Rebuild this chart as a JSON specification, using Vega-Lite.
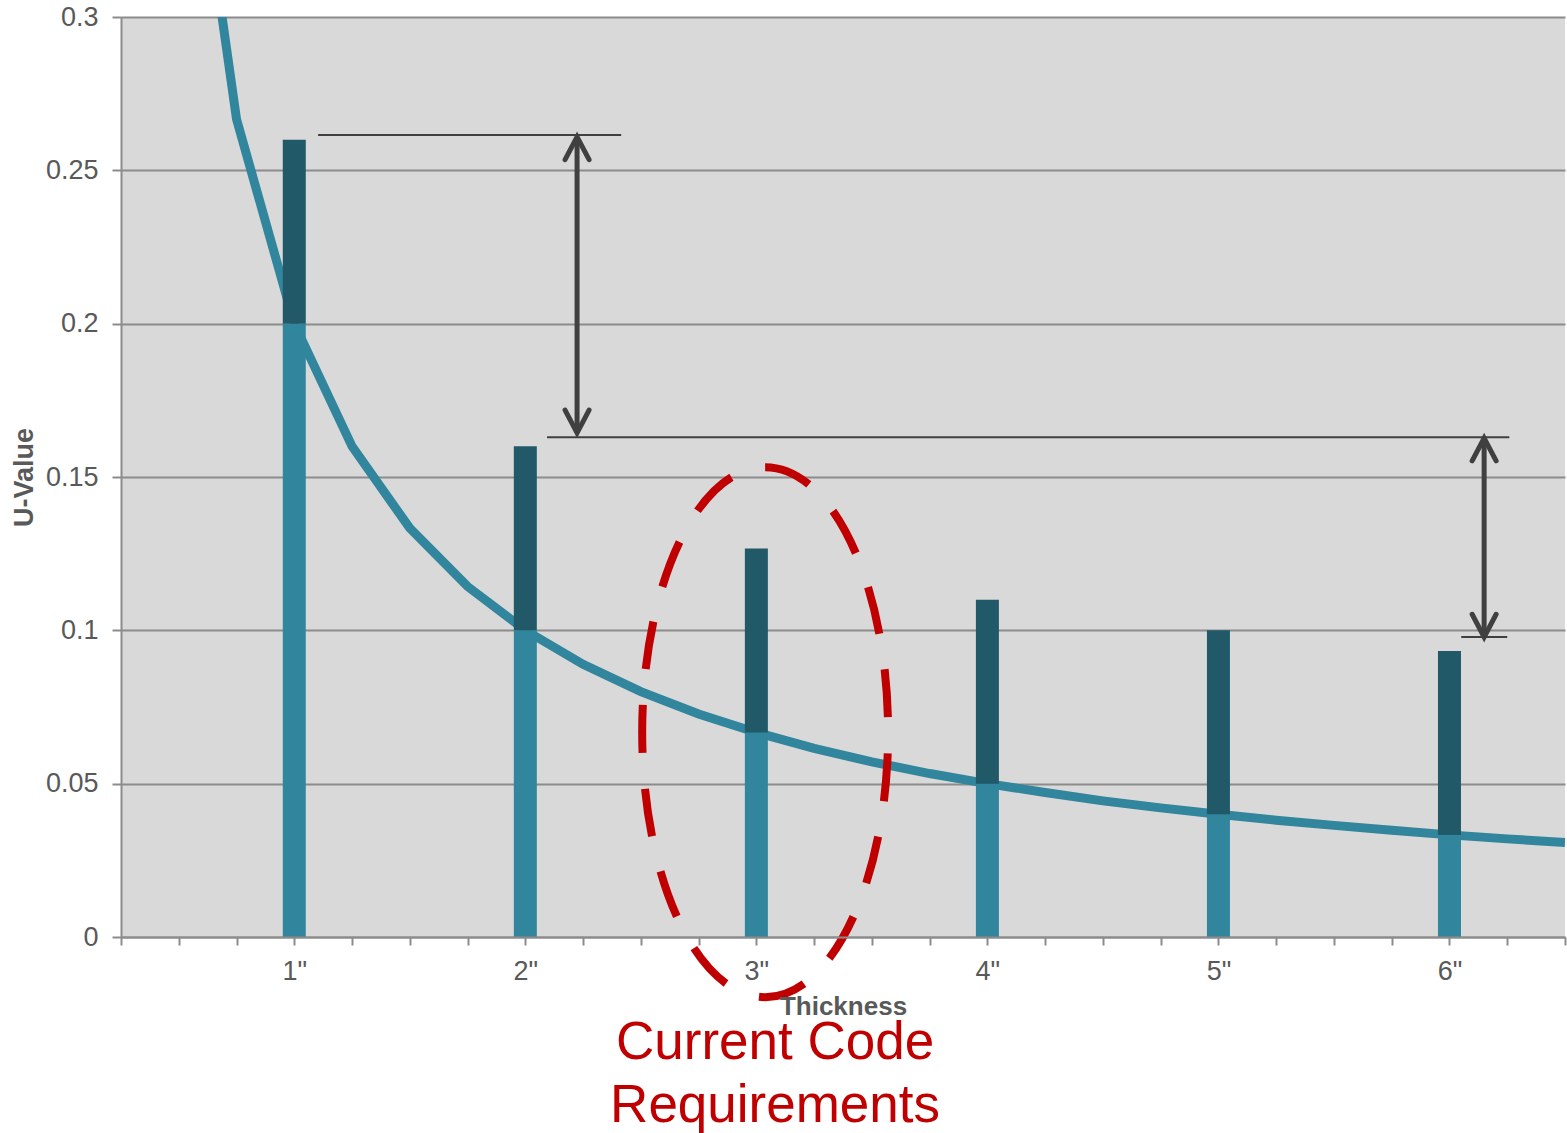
{
  "$schema": "https://vega.github.io/schema/vega-lite/v6.json",
  "width": 1444,
  "height": 920,
  "autosize": "none",
  "padding": {"left": 121, "top": 17, "right": 2, "bottom": 196},
  "background": "white",
  "view": {"fill": "#d9d9d9", "stroke": null},
  "config": {"font": "Liberation Sans"},
  "datasets": {
    "curve": [
      {"x": 0.5, "y": 0.4},
      {"x": 0.75, "y": 0.2667},
      {"x": 1.0, "y": 0.2},
      {"x": 1.25, "y": 0.16},
      {"x": 1.5, "y": 0.1333},
      {"x": 1.75, "y": 0.1143},
      {"x": 2.0, "y": 0.1},
      {"x": 2.25, "y": 0.0889},
      {"x": 2.5, "y": 0.08},
      {"x": 2.75, "y": 0.0727},
      {"x": 3.0, "y": 0.0667},
      {"x": 3.25, "y": 0.0615},
      {"x": 3.5, "y": 0.0571},
      {"x": 3.75, "y": 0.0533},
      {"x": 4.0, "y": 0.05},
      {"x": 4.25, "y": 0.0471},
      {"x": 4.5, "y": 0.0444},
      {"x": 4.75, "y": 0.0421},
      {"x": 5.0, "y": 0.04},
      {"x": 5.25, "y": 0.0381},
      {"x": 5.5, "y": 0.0364},
      {"x": 5.75, "y": 0.0348},
      {"x": 6.0, "y": 0.0333},
      {"x": 6.25, "y": 0.032},
      {"x": 6.5, "y": 0.0308}
    ],
    "bars": [
      {"x": 1, "y": 0.2, "top": 0.26},
      {"x": 2, "y": 0.1, "top": 0.16},
      {"x": 3, "y": 0.0667, "top": 0.1267},
      {"x": 4, "y": 0.05, "top": 0.11},
      {"x": 5, "y": 0.04, "top": 0.1},
      {"x": 6, "y": 0.0333, "top": 0.0933}
    ],
    "levels": [
      {"x": 1.103, "x2": 2.415, "y": 0.2615},
      {"x": 2.094, "x2": 6.259, "y": 0.163},
      {"x": 6.051, "x2": 6.25, "y": 0.0978}
    ],
    "shafts": [
      {"x": 2.224, "y": 0.2609, "y2": 0.1644},
      {"x": 6.15, "y": 0.1627, "y2": 0.0978}
    ],
    "heads": [
      {"x": 2.224, "y": 0.2609, "dir": "up"},
      {"x": 2.224, "y": 0.1644, "dir": "down"},
      {"x": 6.15, "y": 0.1627, "dir": "up"},
      {"x": 6.15, "y": 0.0978, "dir": "down"}
    ],
    "highlight": [
      {"x": 3.038, "y": 0.0668}
    ],
    "note": [
      {"x": 3.081, "y": -0.0398, "label": "Current Code\nRequirements"}
    ]
  },
  "encoding": {
    "x": {
      "field": "x",
      "type": "quantitative",
      "scale": {"domain": [0.25, 6.5], "nice": false, "zero": false, "padding": 0},
      "axis": {
        "title": "Thickness",
        "values": [0.25, 0.5, 0.75, 1, 1.25, 1.5, 1.75, 2, 2.25, 2.5, 2.75, 3, 3.25, 3.5, 3.75, 4, 4.25, 4.5, 4.75, 5, 5.25, 5.5, 5.75, 6, 6.25, 6.5],
        "labelExpr": "datum.value % 1 === 0 ? datum.value + '\"' : ''",
        "grid": false,
        "zindex": 1,
        "domainColor": "#8c8c8c",
        "domainWidth": 2,
        "tickColor": "#8c8c8c",
        "tickWidth": 2,
        "tickSize": 8,
        "labelFontSize": 27,
        "labelColor": "#595959",
        "labelPadding": 13,
        "labelFlush": false,
        "labelOverlap": false,
        "titleFontSize": 26,
        "titleFontWeight": "bold",
        "titleColor": "#595959",
        "titlePadding": 9
      }
    },
    "y": {
      "field": "y",
      "type": "quantitative",
      "scale": {"domain": [0, 0.3], "nice": false, "zero": false, "padding": 0},
      "axis": {
        "title": "U-Value",
        "values": [0, 0.05, 0.1, 0.15, 0.2, 0.25, 0.3],
        "format": "~g",
        "grid": true,
        "gridColor": "#8c8c8c",
        "gridWidth": 2,
        "domainColor": "#8c8c8c",
        "domainWidth": 2,
        "tickColor": "#8c8c8c",
        "tickWidth": 2,
        "tickSize": 9,
        "labelFontSize": 27,
        "labelColor": "#595959",
        "labelPadding": 14,
        "labelFlush": false,
        "labelOverlap": false,
        "titleFontSize": 27,
        "titleFontWeight": "bold",
        "titleColor": "#595959",
        "titlePadding": 7
      }
    }
  },
  "layer": [
    {
      "data": {"name": "curve"},
      "mark": {"type": "line", "color": "#31859c", "strokeWidth": 9, "clip": true}
    },
    {
      "data": {"name": "bars"},
      "mark": {"type": "bar", "size": 23, "color": "#31859c"},
      "encoding": {
        "y2": {"datum": 0}
      }
    },
    {
      "data": {"name": "bars"},
      "mark": {"type": "bar", "size": 23, "color": "#215968"},
      "encoding": {
        "y": {"field": "top", "type": "quantitative", "title": "U-Value"},
        "y2": {"field": "y"}
      }
    },
    {
      "data": {"name": "levels"},
      "mark": {"type": "rule", "color": "#404040", "strokeWidth": 2},
      "encoding": {
        "x2": {"field": "x2"}
      }
    },
    {
      "data": {"name": "shafts"},
      "mark": {"type": "rule", "color": "#404040", "strokeWidth": 5},
      "encoding": {
        "y2": {"field": "y2"}
      }
    },
    {
      "data": {"name": "heads"},
      "mark": {"type": "point", "filled": false, "stroke": "#404040", "strokeWidth": 5, "size": 576, "opacity": 1, "strokeCap": "round", "strokeJoin": "miter"},
      "encoding": {
        "shape": {
          "field": "dir",
          "type": "nominal",
          "scale": {"domain": ["up", "down"], "range": ["M -1 1.9 L 0 0 L 1 1.9", "M -1 -1.9 L 0 0 L 1 -1.9"]},
          "legend": null
        }
      }
    },
    {
      "data": {"name": "highlight"},
      "mark": {"type": "point", "filled": false, "stroke": "#c00000", "strokeWidth": 8, "strokeDash": [48, 36], "size": 280900, "opacity": 1, "shape": "M 0 -1 A 0.464 1 0 0 1 0 1 A 0.464 1 0 0 1 0 -1"}
    },
    {
      "data": {"name": "note"},
      "mark": {"type": "text", "color": "#c00000", "fontSize": 53, "align": "center", "baseline": "alphabetic", "lineBreak": "\n", "lineHeight": 63},
      "encoding": {
        "text": {"field": "label"}
      }
    }
  ]
}
